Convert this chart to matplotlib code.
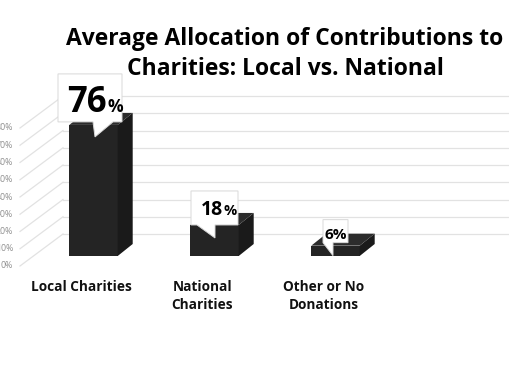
import matplotlib
matplotlib.use('Agg')
from matplotlib import pyplot as plt
from matplotlib.patches import Polygon
import numpy as np

plt.rcParams['font.family'] = ['Open Sans', 'DejaVu Sans']

# data
categories = ['Local Charities', 'National\nCharities', 'Other or No\nDonations']
values = [76, 18, 6]
ticks = [0, 10, 20, 30, 40, 50, 60, 70, 80]
tick_labels = ['%d%%' % t for t in ticks]

# pixel -> data helpers (1 category = 121 px, 1 % = 1.725 px)
PX = 1 / 121.0
PY = 1 / 1.725

fig = plt.figure(figsize=(5.1, 3.82), dpi=100)
ax = fig.add_axes([0, 0, 1, 1])
ax.set_xlim(-93.5 * PX, (510 - 93.5) * PX)
ax.set_ylim(-126 * PY, 256 * PY)
ax.axis('off')

grid_col = '#e2e2e2'
wall_dy = 22 * PY      # back wall above front plane
lab_dy = -10 * PY      # label plane below front plane
x_lab = -73.5 * PX
x_wall = -30.5 * PX

# back wall grid + diagonals to labels
for t, lab in zip(ticks, tick_labels):
    ax.plot([x_wall, 500], [t + wall_dy, t + wall_dy], color=grid_col, lw=0.9, zorder=1)
    ax.plot([x_lab, x_wall], [t + lab_dy, t + wall_dy], color=grid_col, lw=0.9, zorder=1)
    ax.text(x_lab - 7 * PX, t + lab_dy, lab, ha='right', va='center',
            fontsize=6.3, color='#909090')

# 3d bars
w = 0.4
ddx = 15 * PX
ddy = 12 * PY
front_col = '#242424'
side_col = '#1a1a1a'
top_col = '#2c2c2c'
for i, v in enumerate(values):
    x0 = i - w / 2
    x1 = i + w / 2
    ax.add_patch(Polygon([(x0, 0), (x1, 0), (x1, v), (x0, v)], closed=True,
                         fc=front_col, ec='none', zorder=3))
    ax.add_patch(Polygon([(x1, 0), (x1 + ddx, ddy), (x1 + ddx, v + ddy), (x1, v)],
                         closed=True, fc=side_col, ec='none', zorder=3))
    ax.add_patch(Polygon([(x0, v), (x1, v), (x1 + ddx, v + ddy), (x0 + ddx, v + ddy)],
                         closed=True, fc=top_col, ec='none', zorder=3))

# callouts: box (left, right, height px), gap above top, tail (left, right, tip x, tip depth)
callouts = [
    dict(box=(-35.5, 28.5, 48), gap=3, tail=(-0.5, 19.5, 1.5, 12), big=25, small=12.5, split=13.5, base=10),
    dict(box=(-23.5, 23.5, 34), gap=0, tail=(-17.5, 0.5, 0.5, 13), big=14, small=10.5, split=8.5, base=10),
    dict(box=(-12.5, 12.5, 23), gap=3, tail=(-12.5, -2.5, -2.5, 10), big=11, small=11, split=0, base=4),
]
for i, (v, c) in enumerate(zip(values, callouts)):
    bl, br, bh = c['box']
    yb = v + c['gap'] * PY
    yt = yb + bh * PY
    tl, tr, tx, td = c['tail']
    shape = [(i + bl * PX, yb), (i + tl * PX, yb), (i + tx * PX, v - td * PY),
             (i + tr * PX, yb), (i + br * PX, yb), (i + br * PX, yt), (i + bl * PX, yt)]
    ax.add_patch(Polygon(shape, closed=True, fc='white', ec='#d8d8d8', lw=0.7, zorder=5))
    ybase = yb + c['base'] * PY
    if c['split']:
        xs = i + c['split'] * PX
        ax.text(xs, ybase, str(v), ha='right', va='baseline', fontsize=c['big'],
                fontweight='bold', color='black', zorder=6)
        ax.text(xs, ybase, '%', ha='left', va='baseline', fontsize=c['small'],
                fontweight='bold', color='black', zorder=6)
    else:
        ax.text(i, ybase, '%d%%' % v, ha='center', va='baseline', fontsize=c['big'],
                fontweight='bold', color='black', zorder=6)

# category labels
for i, cat in enumerate(categories):
    ax.text(i - 12 * PX, -24 * PY, cat, ha='center', va='top', fontsize=9.8,
            fontweight='bold', color='#111111', linespacing=1.35)

# title
ax.text(285 * PX - 93.5 * PX, (256 - 54) * PY,
        'Average Allocation of Contributions to\nCharities: Local vs. National',
        ha='center', va='center', fontsize=16.5, fontweight='bold', color='black',
        linespacing=1.35)

fig.savefig('out.png', dpi=100)
